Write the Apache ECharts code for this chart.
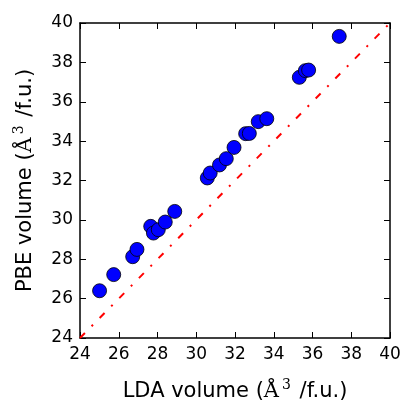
<!DOCTYPE html>
<html><head><meta charset="utf-8">
<script src="https://cdn.jsdelivr.net/npm/echarts@6/dist/echarts.min.js"></script>
<style>html,body{margin:0;padding:0;background:#fff}#c{width:403px;height:403px}</style>
</head><body><div id="c"></div>
<script>
const ldaVolume = [25.01, 25.74, 26.72, 26.94, 27.65, 27.79, 28.04, 28.40, 28.89, 30.57, 30.72, 31.20, 31.55, 31.95, 32.55, 32.74, 33.20, 33.64, 35.32, 35.63, 35.80, 37.38];
const pbeVolume = [26.40, 27.22, 28.13, 28.50, 29.67, 29.33, 29.50, 29.89, 30.43, 32.13, 32.38, 32.79, 33.11, 33.68, 34.38, 34.39, 34.99, 35.14, 37.24, 37.58, 37.61, 39.32];
const diagX = [24, 40];
const diagY = [24, 40];
const axisMin = 24, axisMax = 40, axisStep = 2;

const font = 'DejaVu Sans';
const serif = 'DejaVu Serif';
const chart = echarts.init(document.getElementById('c'), null, {renderer: 'canvas'});
const axisCommon = {
  type: 'value', min: axisMin, max: axisMax, interval: axisStep,
  splitLine: {show: false},
  axisLine: {show: true, onZero: false, lineStyle: {color: '#000', width: 1.5}},
  axisTick: {show: true, inside: true, length: 6, lineStyle: {color: '#000', width: 1}},
  nameLocation: 'middle',
  nameTextStyle: {
    fontFamily: font, fontSize: 21, color: '#000',
    rich: {
      t: {fontFamily: font, fontSize: 21, color: '#000'},
      a: {fontFamily: serif, fontSize: 21, color: '#000'},
      s: {fontFamily: serif, fontSize: 14, color: '#000', verticalAlign: 'top', padding: [0, 2, 14, 3]}
    }
  }
};
const mirror = {
  type: 'value', min: axisMin, max: axisMax, interval: axisStep,
  splitLine: {show: false},
  axisLine: {show: true, onZero: false, lineStyle: {color: '#000', width: 1.5}},
  axisTick: {show: true, inside: true, length: 6, lineStyle: {color: '#000', width: 1}},
  axisLabel: {show: false}
};
chart.setOption({
  animation: false,
  backgroundColor: '#fff',
  grid: {left: 80, right: 13, top: 23, bottom: 65, containLabel: false, outerBoundsMode: 'none'},
  xAxis: [
    Object.assign({}, axisCommon, {
      position: 'bottom',
      name: '{t|LDA volume (}{a|Å}{s|3}{t| /f.u.)}', nameGap: 40,
      axisLabel: {fontFamily: font, fontSize: 17, color: '#000', margin: 8}
    }),
    Object.assign({}, mirror, {position: 'top'})
  ],
  yAxis: [
    Object.assign({}, axisCommon, {
      position: 'left',
      name: '{t|PBE volume (}{a|Å}{s|3}{t| /f.u.)}', nameGap: 40,
      axisLabel: {fontFamily: font, fontSize: 17, color: '#000', margin: 7}
    }),
    Object.assign({}, mirror, {position: 'right'})
  ],
  series: [
    {
      type: 'line',
      data: diagX.map((x, i) => [x, diagY[i]]),
      symbol: 'none',
      lineStyle: {color: '#ff0000', width: 2, type: [7, 9.5, 2, 9.5]},
      z: 1
    },
    {
      type: 'scatter',
      data: ldaVolume.map((x, i) => [x, pbeVolume[i]]),
      symbol: 'circle',
      symbolSize: 14,
      itemStyle: {color: '#0000ff', borderColor: '#000', borderWidth: 0.8, opacity: 1},
      z: 3
    }
  ]
});
</script></body></html>
